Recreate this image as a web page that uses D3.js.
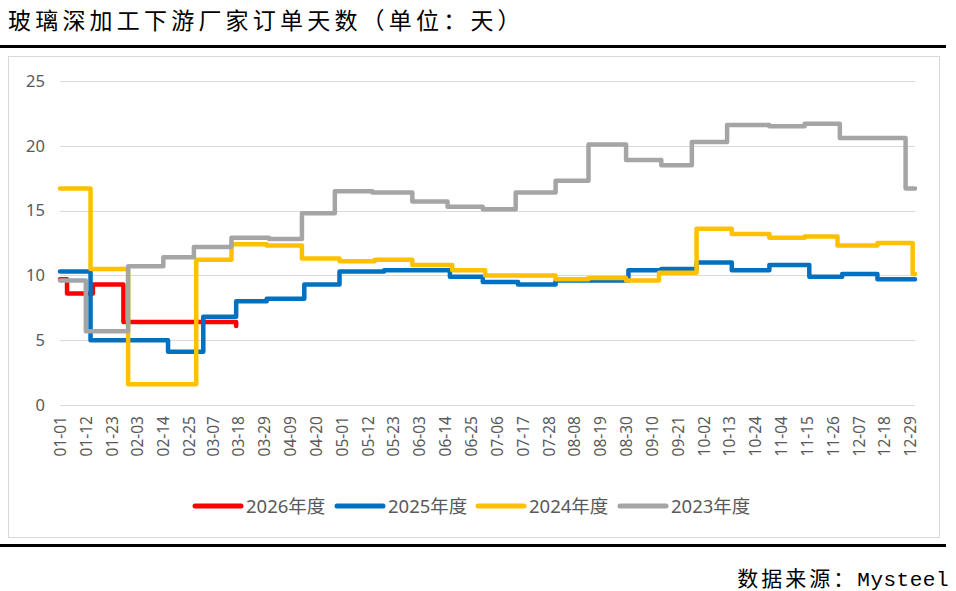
<!DOCTYPE html>
<html>
<head>
<meta charset="utf-8">
<script src="https://cdn.jsdelivr.net/npm/d3@7"></script>
<style>
  body { margin: 0; background: #fff; }
  text { font-family: "Noto Sans", "Noto Sans CJK SC", sans-serif; }
</style>
</head>
<body>
<div id="container"></div>
<script>
// change points (MM-DD, value); each value holds until the next point
const s2026 = [["01-01", 9.7], ["01-04", 8.6], ["01-15", 9.3], ["01-28", 6.4], ["03-16", 6.4], ["03-17", 6.1]];
const s2025 = [["01-01", 10.3], ["01-14", 5.0], ["02-16", 4.1], ["03-03", 6.8], ["03-17", 8.0], ["03-30", 8.2],
    ["04-15", 9.3], ["04-30", 10.3], ["05-19", 10.4], ["06-16", 9.9], ["06-30", 9.5], ["07-15", 9.3],
    ["07-31", 9.6], ["08-31", 10.4], ["09-14", 10.5], ["09-29", 11.0], ["10-14", 10.4], ["10-30", 10.8],
    ["11-16", 9.9], ["11-30", 10.1], ["12-15", 9.7], ["12-31", 9.7]];
const s2024 = [["01-01", 16.7], ["01-14", 10.5], ["01-30", 1.6], ["02-28", 11.2], ["03-15", 12.4], ["03-30", 12.3],
    ["04-14", 11.3], ["04-30", 11.1], ["05-15", 11.2], ["05-31", 10.8], ["06-17", 10.4], ["07-01", 10.0],
    ["07-31", 9.7], ["08-14", 9.8], ["08-30", 9.6], ["09-13", 10.2], ["09-29", 13.6], ["10-14", 13.2],
    ["10-30", 12.9], ["11-14", 13.0], ["11-28", 12.3], ["12-15", 12.5], ["12-30", 10.1], ["12-31", 10.1]];
const s2023 = [["01-01", 9.6], ["01-12", 5.7], ["01-30", 10.7], ["02-14", 11.4], ["02-27", 12.2], ["03-15", 12.9],
    ["03-31", 12.8], ["04-14", 14.8], ["04-28", 16.5], ["05-14", 16.4], ["05-31", 15.7], ["06-15", 15.3],
    ["06-30", 15.1], ["07-14", 16.4], ["07-31", 17.3], ["08-14", 20.1], ["08-30", 18.9], ["09-14", 18.5],
    ["09-27", 20.3], ["10-12", 21.6], ["10-30", 21.5], ["11-14", 21.7], ["11-29", 20.6], ["12-27", 16.7],
    ["12-31", 16.7]];

const seriesNames = ["2026年度", "2025年度", "2024年度", "2023年度"];
const seriesColors = ["#FF0000", "#0070C0", "#FFC000", "#A5A5A5"];
const seriesData = [s2026, s2025, s2024, s2023];

const xTickLabels = ["01-01", "01-12", "01-23", "02-03", "02-14", "02-25", "03-07", "03-18", "03-29", "04-09",
    "04-20", "05-01", "05-12", "05-23", "06-03", "06-14", "06-25", "07-06", "07-17", "07-28", "08-08",
    "08-19", "08-30", "09-10", "09-21", "10-02", "10-13", "10-24", "11-04", "11-15", "11-26", "12-07",
    "12-18", "12-29"];
const yTicks = [0, 5, 10, 15, 20, 25];

const parseMD = d3.timeParse("%Y-%m-%d");
const toDate = md => parseMD("2023-" + md);

const width = 956, height = 591;
const plot = { left: 60, right: 915, top: 81, bottom: 405 };

const svg = d3.select("#container").append("svg")
    .attr("width", width)
    .attr("height", height);

// title
svg.append("text")
    .attr("x", 8)
    .attr("y", 29)
    .style("font-family", "'Noto Sans CJK SC', sans-serif")
    .style("font-size", "23px")
    .style("letter-spacing", "4.2px")
    .style("fill", "#000")
    .text("玻璃深加工下游厂家订单天数（单位：天）");

svg.append("rect")
    .attr("x", 0).attr("y", 45)
    .attr("width", 946).attr("height", 3)
    .style("fill", "#000");

// chart frame
svg.append("rect")
    .attr("x", 8.5).attr("y", 56.5)
    .attr("width", 931).attr("height", 481)
    .style("fill", "#fff")
    .style("stroke", "#D9D9D9")
    .style("stroke-width", 1);

svg.append("rect")
    .attr("x", 0).attr("y", 544)
    .attr("width", 946).attr("height", 3)
    .style("fill", "#000");

// source
const src = svg.append("text")
    .attr("x", 949)
    .attr("y", 586)
    .style("text-anchor", "end")
    .style("font-size", "21px")
    .style("fill", "#000");
src.append("tspan")
    .style("font-family", "'Noto Sans CJK SC', sans-serif")
    .style("letter-spacing", "3px")
    .text("数据来源：");
src.append("tspan")
    .style("font-family", "'Liberation Mono', monospace")
    .style("letter-spacing", "0.5px")
    .text("Mysteel");

const x = d3.scaleTime()
    .domain([toDate("01-01"), toDate("12-31")])
    .range([plot.left, plot.right]);

const y = d3.scaleLinear()
    .domain([0, 25])
    .range([plot.bottom, plot.top]);

// gridlines
svg.append("g")
    .selectAll("line")
    .data(yTicks)
    .enter().append("line")
    .attr("x1", plot.left)
    .attr("x2", plot.right)
    .attr("y1", d => Math.round(y(d)) + 0.5)
    .attr("y2", d => Math.round(y(d)) + 0.5)
    .style("stroke", "#D9D9D9")
    .style("stroke-width", 1);

const yAxis = svg.append("g")
    .attr("transform", `translate(${plot.left},0)`)
    .call(d3.axisLeft(y).tickValues(yTicks).tickSize(0).tickPadding(15));
yAxis.select(".domain").remove();
yAxis.selectAll("text")
    .style("font-size", "16.5px")
    .style("fill", "#595959");

const xAxis = svg.append("g")
    .attr("transform", `translate(0,${plot.bottom})`)
    .call(d3.axisBottom(x)
        .tickValues(xTickLabels.map(toDate))
        .tickFormat(d3.timeFormat("%m-%d"))
        .tickSize(0));
xAxis.select(".domain").remove();
xAxis.selectAll("text")
    .attr("x", -11)
    .attr("y", 0)
    .attr("dy", "0.35em")
    .attr("transform", "rotate(-90)")
    .style("text-anchor", "end")
    .style("font-size", "15.5px")
    .style("fill", "#595959");

const line = d3.line()
    .x(d => x(toDate(d[0])))
    .y(d => y(d[1]))
    .curve(d3.curveStepAfter);

seriesData.forEach((data, i) => {
    svg.append("path")
        .datum(data)
        .attr("d", line)
        .style("fill", "none")
        .style("stroke", seriesColors[i])
        .style("stroke-width", 4.5)
        .style("stroke-linejoin", "round")
        .style("stroke-linecap", "round");
});

// legend
const legendX = [193, 335, 476, 618];
const legend = svg.append("g");
seriesNames.forEach((name, i) => {
    legend.append("line")
        .attr("x1", legendX[i] + 2)
        .attr("x2", legendX[i] + 48)
        .attr("y1", 506)
        .attr("y2", 506)
        .style("stroke", seriesColors[i])
        .style("stroke-width", 5)
        .style("stroke-linecap", "round");
    legend.append("text")
        .attr("x", legendX[i] + 53)
        .attr("y", 512.5)
        .style("font-size", "18.5px")
        .style("fill", "#595959")
        .text(name);
});
</script>
</body>
</html>
